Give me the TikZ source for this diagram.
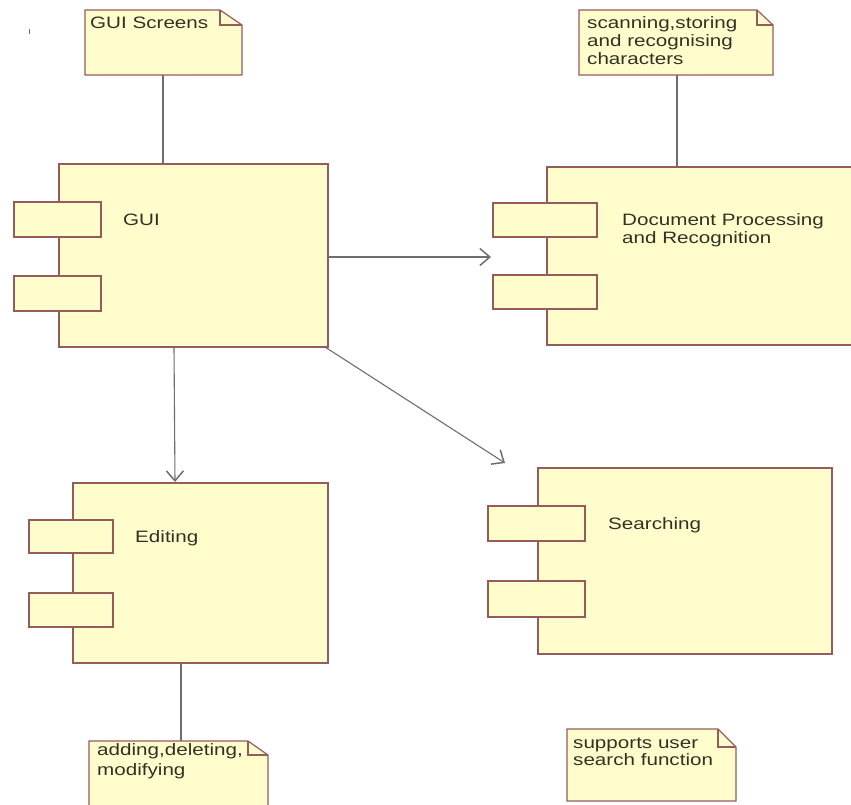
\documentclass[tikz,border=0pt]{standalone}
\usepackage{fontspec}
\setmainfont{Liberation Sans}
\usetikzlibrary{arrows.meta}
\definecolor{fillY}{RGB}{255,253,204}
\definecolor{edge}{RGB}{150,92,92}
\definecolor{conngray}{RGB}{110,110,110}
\definecolor{txt}{RGB}{50,50,36}
\newcommand\wtext[1]{\scalebox{1.25}[1]{\begin{tabular}[t]{@{}l@{}}#1\end{tabular}}}
\newcommand\drawnote[3]{%
  \draw[notestyle] (#1.north west) -- ([xshift=-#2pt]#1.north east) -- ([yshift=-#3pt]#1.north east) -- (#1.south east) -- (#1.south west) -- cycle;
  \draw[notestyle,fill=none] ([xshift=-#2pt]#1.north east) -- ([xshift=-#2pt,yshift=-#3pt]#1.north east) -- ([yshift=-#3pt]#1.north east);}
\tikzset{
  comp/.style={draw=edge, fill=fillY, line width=1.2pt, inner sep=0pt, outer sep=0pt, anchor=north west},
  port/.style={draw=edge, fill=fillY, line width=1.2pt, inner sep=0pt, outer sep=0pt, anchor=north west},
  notebox/.style={draw=none, inner sep=0pt, outer sep=0pt, anchor=north west},
  notestyle/.style={draw=edge, fill=fillY, line width=1.2pt, line join=miter},
  lbl/.style={anchor=base west, inner sep=0pt, text=txt, font=\fontsize{16.5}{18}\selectfont},
  conn/.style={draw=conngray, line width=1.1pt},
  arr/.style={conn, -{Straight Barb[length=10pt,width=17pt,line width=1.5pt]}}
}
\begin{document}
\begin{tikzpicture}[x=1pt,y=-1pt]
\useasboundingbox (0,0) rectangle (851,804);
\clip (0,0) rectangle (851,804);
\fill[white] (0,0) rectangle (851,804);
% stray tick
\draw[conngray, line width=0.8pt] (29,29) -- (29,34);

% notes
\node[notebox, minimum width=157pt, minimum height=65pt] (n1) at (85,10) {};
\drawnote{n1}{22}{15}
\node[notebox, minimum width=194pt, minimum height=65pt] (n2) at (579,10) {};
\drawnote{n2}{16}{15}
\node[notebox, minimum width=179pt, minimum height=75pt] (n3) at (89,741) {};
\drawnote{n3}{20}{14}
\node[notebox, minimum width=169pt, minimum height=72pt] (n4) at (567,729) {};
\drawnote{n4}{18}{18}

\node[lbl] (t1) at (90,28) {\wtext{GUI Screens}};
\node[lbl] (t2) at (587,28) {\wtext{scanning,storing\\and recognising\\characters}};
\node[lbl, font=\fontsize{16.5}{20}\selectfont] (t3) at (97,755) {\wtext{adding,deleting,\\modifying}};
\node[lbl, font=\fontsize{16.5}{17}\selectfont] (t4) at (573,748) {\wtext{supports user\\search function}};

% components
\node[comp, minimum width=269pt, minimum height=183pt] (gui) at (59,164) {};
\node[port, minimum width=87pt, minimum height=35pt] (guip1) at (14,202) {};
\node[port, minimum width=87pt, minimum height=35pt] (guip2) at (14,276) {};
\node[lbl] (guil) at (123,225) {\wtext{GUI}};

\node[comp, minimum width=320pt, minimum height=178pt] (doc) at (547,167) {};
\node[port, minimum width=104pt, minimum height=34pt] (docp1) at (493,203) {};
\node[port, minimum width=104pt, minimum height=34pt] (docp2) at (493,275) {};
\node[lbl] (docl) at (622,225) {\wtext{Document Processing\\and Recognition}};

\node[comp, minimum width=255pt, minimum height=180pt] (edit) at (73,483) {};
\node[port, minimum width=84pt, minimum height=33pt] (editp1) at (29,520) {};
\node[port, minimum width=84pt, minimum height=34pt] (editp2) at (29,593) {};
\node[lbl] (editl) at (135,542) {\wtext{Editing}};

\node[comp, minimum width=294pt, minimum height=186pt] (srch) at (538,468) {};
\node[port, minimum width=97pt, minimum height=35pt] (srchp1) at (488,506) {};
\node[port, minimum width=97pt, minimum height=36pt] (srchp2) at (488,581) {};
\node[lbl] (srchl) at (608,529) {\wtext{Searching}};

% connectors
\draw[conn] (n1.south -| 163,0) -- (gui.north -| 163,0);
\draw[conn] (n2.south -| 677,0) -- (doc.north -| 677,0);
\draw[conn] (edit.south -| 181,0) -- (n3.north -| 181,0);

\coordinate (a1e) at (491,257);
\coordinate (a2e) at (175,482);
\coordinate (a3e) at (505,463);
\draw[arr] (gui.east |- 0,257) -- (a1e);
\draw[arr] (gui.south -| 174,0) -- (a2e);
\draw[arr] ([xshift=-3pt]gui.south east) -- (a3e);
\end{tikzpicture}
\end{document}
